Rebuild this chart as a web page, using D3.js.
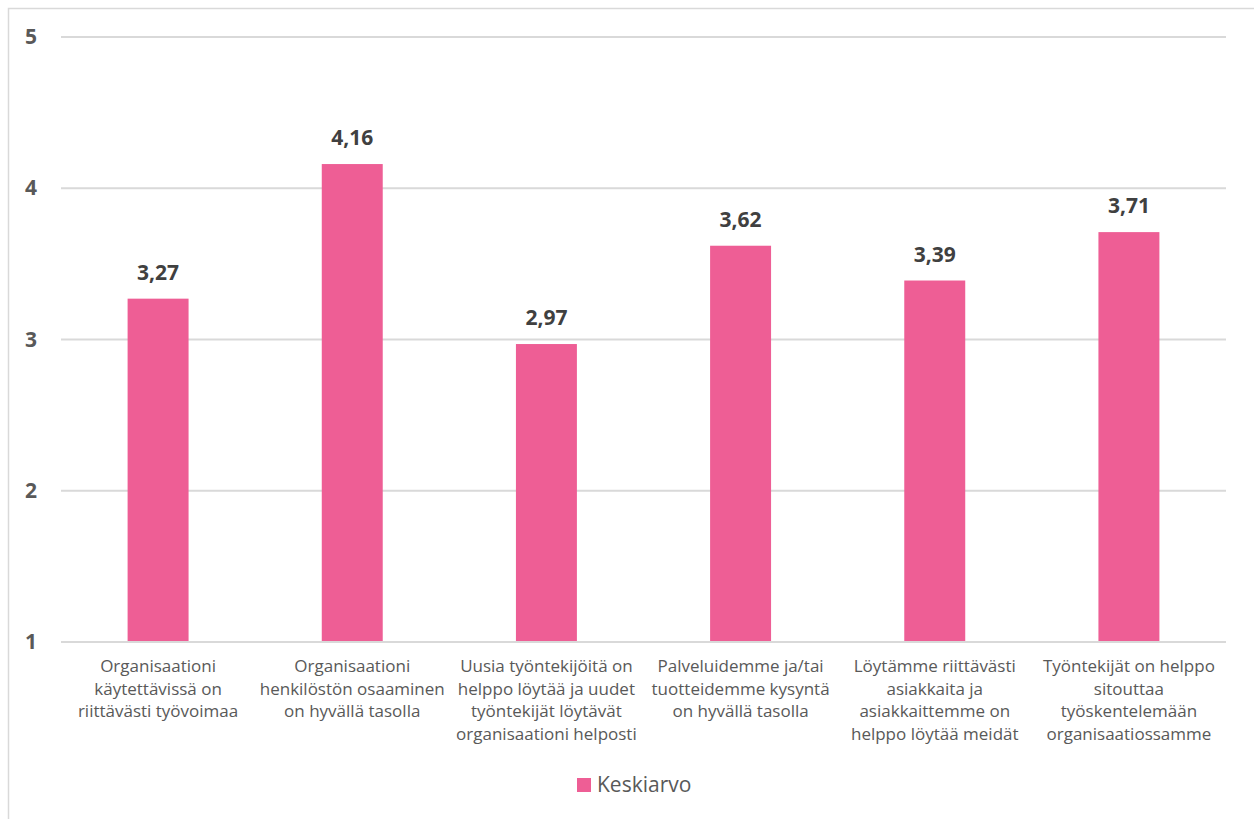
<!DOCTYPE html>
<html>
<head>
<meta charset="utf-8">
<script src="https://cdn.jsdelivr.net/npm/d3@7"></script>
<style>
  html, body { margin: 0; padding: 0; background: #ffffff; }
  svg { display: block; }
</style>
</head>
<body>
<svg id="chart" width="1254" height="819"></svg>
<script>
// ---- data ----
const categories = [
  "Organisaationi\nkäytettävissä on\nriittävästi työvoimaa",
  "Organisaationi\nhenkilöstön osaaminen\non hyvällä tasolla",
  "Uusia työntekijöitä on\nhelppo löytää ja uudet\ntyöntekijät löytävät\norganisaationi helposti",
  "Palveluidemme ja/tai\ntuotteidemme kysyntä\non hyvällä tasolla",
  "Löytämme riittävästi\nasiakkaita ja\nasiakkaittemme on\nhelppo löytää meidät",
  "Työntekijät on helppo\nsitouttaa\ntyöskentelemään\norganisaatiossamme"
];
const values = [3.27, 4.16, 2.97, 3.62, 3.39, 3.71];
const yTicks = [1, 2, 3, 4, 5];
const seriesName = "Keskiarvo";

// ---- layout ----
const svg = d3.select("#chart");
const font = "'Open Sans', 'Noto Sans', sans-serif";
const barColor = "#EE5E95";
const gridColor = "#D9D9D9";
const plotLeft = 61, plotRight = 1226, plotTop = 37, plotBottom = 642;

// chart border
svg.append("rect")
  .attr("x", 8.5).attr("y", 8.5)
  .attr("width", 1300).attr("height", 900)
  .attr("fill", "none").attr("stroke", gridColor).attr("stroke-width", 1.5);

const x = d3.scaleBand()
  .domain(categories)
  .range([plotLeft, plotRight])
  .paddingInner(0.686)
  .paddingOuter(0.343);

const y = d3.scaleLinear().domain([1, 5]).range([plotBottom, plotTop]);

// gridlines
svg.append("g")
  .selectAll("line")
  .data(yTicks)
  .join("line")
  .attr("x1", plotLeft).attr("x2", plotRight)
  .attr("y1", d => y(d)).attr("y2", d => y(d))
  .attr("stroke", gridColor).attr("stroke-width", 2);

// y axis labels
const yAxis = svg.append("g")
  .attr("transform", `translate(${plotLeft},0)`)
  .call(d3.axisLeft(y).tickValues(yTicks).tickSize(0).tickPadding(24).tickFormat(d3.format("d")));
yAxis.select(".domain").remove();
yAxis.selectAll("text")
  .attr("font-family", font)
  .attr("font-size", 21)
  .attr("font-weight", "bold")
  .attr("fill", "#595959");

// bars
svg.append("g")
  .selectAll("rect")
  .data(values)
  .join("rect")
  .attr("x", (d, i) => x(categories[i]))
  .attr("width", x.bandwidth())
  .attr("y", d => y(d))
  .attr("height", d => y(1) - y(d))
  .attr("fill", barColor);

// value labels
svg.append("g")
  .selectAll("text")
  .data(values)
  .join("text")
  .attr("x", (d, i) => x(categories[i]) + x.bandwidth() / 2)
  .attr("y", d => y(d) - 19)
  .attr("text-anchor", "middle")
  .attr("font-family", font)
  .attr("font-size", 21)
  .attr("font-weight", "bold")
  .attr("fill", "#404040")
  .text(d => d3.format(".2f")(d).replace(".", ","));

// x axis line
svg.append("line")
  .attr("x1", plotLeft).attr("x2", plotRight)
  .attr("y1", y(1)).attr("y2", y(1))
  .attr("stroke", gridColor).attr("stroke-width", 2);

// category labels
const catG = svg.append("g");
categories.forEach(c => {
  const cx = x(c) + x.bandwidth() / 2;
  const t = catG.append("text")
    .attr("x", cx)
    .attr("y", 672)
    .attr("text-anchor", "middle")
    .attr("font-family", font)
    .attr("font-size", 17)
    .attr("fill", "#595959");
  c.split("\n").forEach((line, k) => {
    t.append("tspan")
      .attr("x", cx)
      .attr("dy", k === 0 ? 0 : 22.7)
      .text(line);
  });
});

// legend
const lg = svg.append("g");
lg.append("rect")
  .attr("x", 577).attr("y", 778)
  .attr("width", 14).attr("height", 14)
  .attr("fill", barColor);
lg.append("text")
  .attr("x", 597).attr("y", 792)
  .attr("font-family", font)
  .attr("font-size", 21)
  .attr("fill", "#595959")
  .text(seriesName);
</script>
</body>
</html>
